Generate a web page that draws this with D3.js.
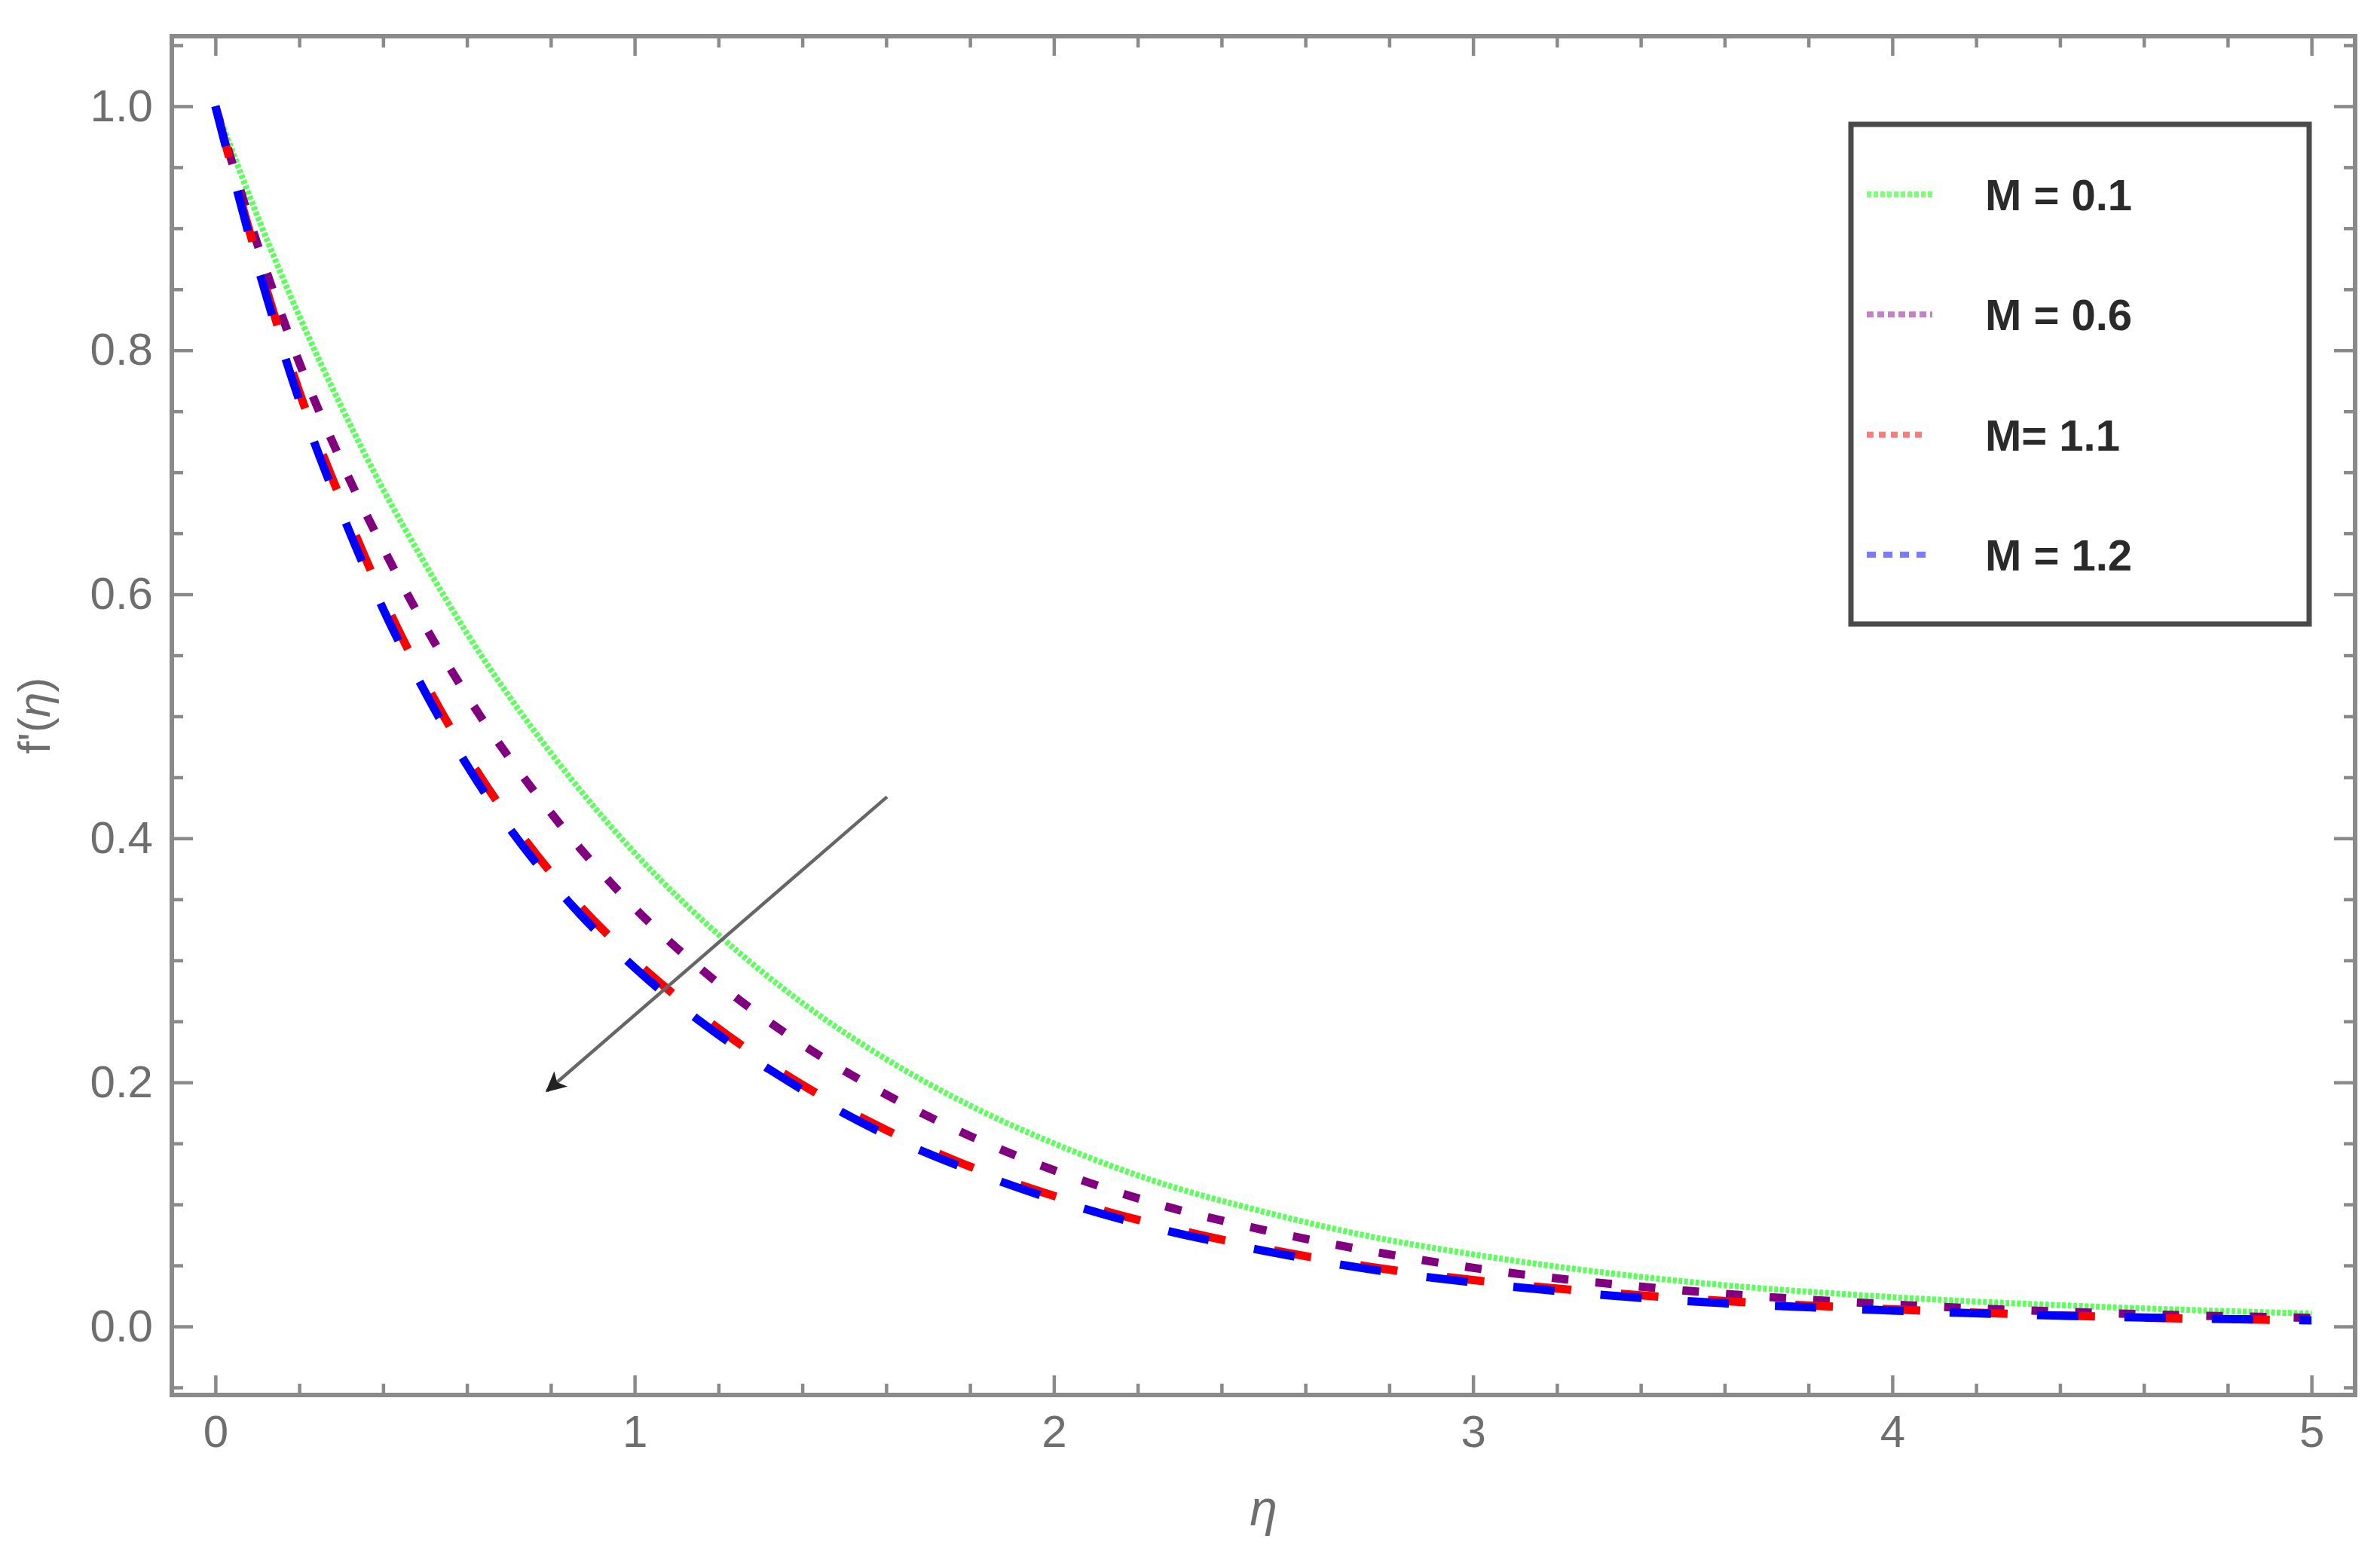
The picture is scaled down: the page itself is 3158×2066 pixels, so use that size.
<!DOCTYPE html>
<html>
<head>
<meta charset="utf-8">
<script src="https://cdn.jsdelivr.net/npm/d3@7"></script>
<style>
  html, body { margin: 0; padding: 0; background: #fff; }
  svg { display: block; }
  .tick text { font-family: "Liberation Sans", Arial, sans-serif; }
</style>
</head>
<body>
<script>
// ---- data ----
const eta = [0, 0.1, 0.2, 0.3, 0.4, 0.5, 0.6, 0.8, 1.0, 1.2, 1.4, 1.6, 1.8, 2.0, 2.25, 2.5, 2.75, 3.0, 3.5, 4.0, 4.5, 5.0];
const fM01 = [1.0, 0.910, 0.828, 0.754, 0.686, 0.625, 0.568, 0.470, 0.388, 0.321, 0.265, 0.219, 0.181, 0.150, 0.118, 0.094, 0.074, 0.059, 0.037, 0.024, 0.016, 0.0105];
const fM06 = [1.0, 0.887, 0.790, 0.709, 0.638, 0.574, 0.517, 0.421, 0.343, 0.281, 0.231, 0.190, 0.156, 0.128, 0.100, 0.079, 0.062, 0.048, 0.0295, 0.018, 0.011, 0.007];
const fM11 = [1.0, 0.875, 0.766, 0.677, 0.597, 0.528, 0.468, 0.372, 0.300, 0.244, 0.198, 0.161, 0.131, 0.107, 0.083, 0.064, 0.049, 0.038, 0.023, 0.014, 0.008, 0.005];
const fM12 = [1.0, 0.870, 0.759, 0.668, 0.588, 0.520, 0.460, 0.365, 0.294, 0.239, 0.194, 0.157, 0.128, 0.104, 0.080, 0.062, 0.047, 0.036, 0.021, 0.013, 0.008, 0.005];
const seriesLabels = ["M = 0.1", "M = 0.6", "M= 1.1", "M = 1.2"];
const xTickValues = [0, 1, 2, 3, 4, 5];
const yTickValues = [0, 0.2, 0.4, 0.6, 0.8, 1.0];
const xMinorValues = [0.2, 0.4, 0.6, 0.8, 1.2, 1.4, 1.6, 1.8, 2.2, 2.4, 2.6, 2.8, 3.2, 3.4, 3.6, 3.8, 4.2, 4.4, 4.6, 4.8];
const yMinorValues = [-0.05, 0.05, 0.1, 0.15, 0.25, 0.3, 0.35, 0.45, 0.5, 0.55, 0.65, 0.7, 0.75, 0.85, 0.9, 0.95, 1.05];
const arrowFrom = [1.602, 0.434];
const arrowTo = [0.791, 0.193];
const xLabel = "η";
const yLabelPre = "f'(";
const yLabelVar = "η";
const yLabelPost = ")";

// ---- layout ----
const W = 3158, H = 2066;
const frame = { left: 228, top: 48, right: 3125, bottom: 1851 };

const x = d3.scaleLinear().domain([-0.104, 5.104]).range([frame.left, frame.right]);
const y = d3.scaleLinear().domain([-0.0562, 1.0574]).range([frame.bottom, frame.top]);

const svg = d3.select("body").append("svg")
  .attr("width", W).attr("height", H)
  .attr("viewBox", `0 0 ${W} ${H}`);
svg.append("rect").attr("width", W).attr("height", H).attr("fill", "#fff");

const FONT = "'Liberation Sans', Arial, Helvetica, sans-serif";
const tickColor = "#8a8a8a";
const labelColor = "#6e6e6e";

function styleAxis(g) {
  g.select(".domain").remove();
  g.selectAll(".tick line").attr("stroke", tickColor).attr("stroke-width", 4.5);
  g.selectAll(".tick text").attr("fill", labelColor).attr("font-size", 60).attr("font-family", FONT);
}

// major + minor ticks on all four sides (ticks point inward)
const majorLen = 26, minorLen = 15;
svg.append("g").attr("transform", `translate(0,${frame.bottom})`)
  .call(d3.axisBottom(x).tickValues(xTickValues).tickSize(-majorLen).tickSizeOuter(0).tickPadding(26).tickFormat(d3.format("d")))
  .call(styleAxis);
svg.append("g").attr("transform", `translate(0,${frame.bottom})`)
  .call(d3.axisBottom(x).tickValues(xMinorValues).tickSize(-minorLen).tickSizeOuter(0).tickFormat(""))
  .call(styleAxis);
svg.append("g").attr("transform", `translate(0,${frame.top})`)
  .call(d3.axisTop(x).tickValues(xTickValues).tickSize(-majorLen).tickSizeOuter(0).tickFormat(""))
  .call(styleAxis);
svg.append("g").attr("transform", `translate(0,${frame.top})`)
  .call(d3.axisTop(x).tickValues(xMinorValues).tickSize(-minorLen).tickSizeOuter(0).tickFormat(""))
  .call(styleAxis);

svg.append("g").attr("transform", `translate(${frame.left},0)`)
  .call(d3.axisLeft(y).tickValues(yTickValues).tickSize(-majorLen - 2).tickSizeOuter(0).tickPadding(25).tickFormat(d3.format(".1f")))
  .call(styleAxis);
svg.append("g").attr("transform", `translate(${frame.left},0)`)
  .call(d3.axisLeft(y).tickValues(yMinorValues).tickSize(-minorLen).tickSizeOuter(0).tickFormat(""))
  .call(styleAxis);
svg.append("g").attr("transform", `translate(${frame.right},0)`)
  .call(d3.axisRight(y).tickValues(yTickValues).tickSize(-majorLen - 2).tickSizeOuter(0).tickFormat(""))
  .call(styleAxis);
svg.append("g").attr("transform", `translate(${frame.right},0)`)
  .call(d3.axisRight(y).tickValues(yMinorValues).tickSize(-minorLen).tickSizeOuter(0).tickFormat(""))
  .call(styleAxis);

// frame
svg.append("rect")
  .attr("x", frame.left).attr("y", frame.top)
  .attr("width", frame.right - frame.left).attr("height", frame.bottom - frame.top)
  .attr("fill", "none").attr("stroke", tickColor).attr("stroke-width", 6);

// ---- curves ----
const series = [
  { vals: fM01, color: "#5cff5c", width: 8, dash: "5,2.5", offset: 0 },
  { vals: fM06, color: "#800080", width: 11, dash: "22,36", offset: 0 },
  { vals: fM11, color: "#ff0000", width: 11, dash: "50,66", offset: 96 },
  { vals: fM12, color: "#0000ff", width: 11, dash: "55,61", offset: 0 }
];

const line = d3.line()
  .x(d => x(d[0]))
  .y(d => y(d[1]))
  .curve(d3.curveMonotoneX);

const plot = svg.append("g");
series.forEach(s => {
  const pts = eta.map((e, i) => [e, s.vals[i]]);
  plot.append("path")
    .datum(pts)
    .attr("d", line)
    .attr("fill", "none")
    .attr("stroke", s.color)
    .attr("stroke-width", s.width)
    .attr("stroke-dasharray", s.dash)
    .attr("stroke-dashoffset", s.offset)
    .attr("stroke-linecap", "butt");
});

// ---- arrow ----
const defs = svg.append("defs");
defs.append("marker")
  .attr("id", "ah")
  .attr("viewBox", "0 0 10 10")
  .attr("refX", 9).attr("refY", 5)
  .attr("markerWidth", 7).attr("markerHeight", 6)
  .attr("markerUnits", "strokeWidth")
  .attr("orient", "auto")
  .append("path")
  .attr("d", "M0,0 L10,5 L0,10 L2.5,5 Z")
  .attr("fill", "#222");

svg.append("line")
  .attr("x1", x(arrowFrom[0])).attr("y1", y(arrowFrom[1]))
  .attr("x2", x(arrowTo[0])).attr("y2", y(arrowTo[1]))
  .attr("stroke", "#666").attr("stroke-width", 4.5)
  .attr("marker-end", "url(#ah)");

// ---- axis labels ----
svg.append("text")
  .attr("x", (frame.left + frame.right) / 2).attr("y", 2024)
  .attr("text-anchor", "middle")
  .attr("font-family", FONT).attr("font-size", 66).attr("font-style", "italic")
  .attr("fill", labelColor)
  .text(xLabel);

const yl = svg.append("text")
  .attr("transform", `translate(66,${(frame.top + frame.bottom) / 2}) rotate(-90)`)
  .attr("text-anchor", "middle")
  .attr("font-family", FONT).attr("font-size", 60)
  .attr("fill", labelColor);
yl.append("tspan").text(yLabelPre);
yl.append("tspan").attr("font-style", "italic").text(yLabelVar);
yl.append("tspan").text(yLabelPost);

// ---- legend ----
const legend = { left: 2456, top: 165, right: 3064, bottom: 828 };
svg.append("rect")
  .attr("x", legend.left).attr("y", legend.top)
  .attr("width", legend.right - legend.left).attr("height", legend.bottom - legend.top)
  .attr("fill", "#fff").attr("stroke", "#4a4a4a").attr("stroke-width", 7);

const legendRowY = d3.scalePoint().domain(seriesLabels).range([258, 736]);
const legendSamples = [
  { color: "#7dff7d", dash: "6,3", len: 87 },
  { color: "#c77fc7", dash: "9,5", len: 87 },
  { color: "#ff7a7a", dash: "9,7", len: 78 },
  { color: "#7a7aff", dash: "12,10", len: 82 }
];
seriesLabels.forEach((lab, i) => {
  const cy = legendRowY(lab);
  svg.append("line")
    .attr("x1", 2477).attr("x2", 2477 + legendSamples[i].len)
    .attr("y1", cy).attr("y2", cy)
    .attr("stroke", legendSamples[i].color).attr("stroke-width", 8)
    .attr("stroke-dasharray", legendSamples[i].dash);
  svg.append("text")
    .attr("x", 2634).attr("y", cy + 21)
    .attr("font-family", FONT).attr("font-size", 58).attr("font-weight", "bold")
    .attr("fill", "#2a2a2a")
    .text(lab);
});
</script>
</body>
</html>
